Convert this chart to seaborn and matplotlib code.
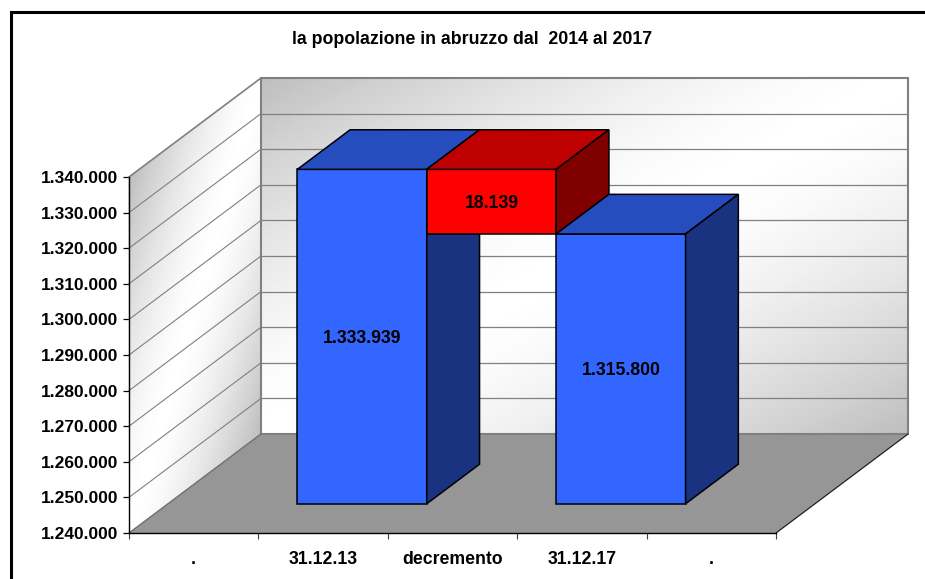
import numpy as np
import pandas as pd
import matplotlib
matplotlib.use("Agg")
import matplotlib.pyplot as plt
from matplotlib.patches import Polygon, Rectangle
from matplotlib.transforms import Affine2D
import seaborn as sns

# --- data ---
categories = [".", "31.12.13", "decremento", "31.12.17", ". "]
bar_names = ["31.12.13", "decremento", "31.12.17"]
bar_tops = [1333939, 1333939, 1315800]
bar_bottoms = [1240000, 1315800, 1240000]
bar_labels = [1333939, 18139, 1315800]
bar_colors = ["#3366FF", "#FF0000", "#3366FF"]
top_colors = ["#264DBF", "#BF0000", "#264DBF"]
side_colors = ["#1A3380", "#800000", "#1A3380"]
y_ticks = list(range(1240000, 1340001, 10000))
title = "la popolazione in abruzzo dal  2014 al 2017"

sns.set_theme(style="ticks")
plt.rcParams["font.family"] = ["Liberation Sans", "DejaVu Sans"]

W, H = 925, 579
fig = plt.figure(figsize=(W / 100, H / 100), dpi=100, facecolor="white")
ax = fig.add_axes([129 / W, 1 - 533 / H, 647 / W, 356 / H])
ax.patch.set_visible(False)

YMIN, YMAX = y_ticks[0], y_ticks[-1]
# 3D oblique projection: full depth offset in data units
DX = 132 / (647 / 5)
DY = 99 / 356 * (YMAX - YMIN)
D_FRONT, D_BACK = 0.295, 0.695
GRID = "#808080"


def proj(x, y, d):
    return x + d * DX, y + d * DY


def wall_mesh(kind, n=41):
    u = np.linspace(0, 1, n)
    v = np.linspace(0, 1, n)
    U, V = np.meshgrid(u, v)
    if kind == "side":
        X = L + U * DX
        Y = YMIN + V * (YMAX - YMIN) + U * DY
    else:
        X = L + DX + U * (R - L)
        Y = YMIN + V * (YMAX - YMIN) + DY
    C = 255 - np.abs(U - V) ** 1.5 * (255 - 190)
    return X, Y, C


L, R = -0.5, 4.5
# side wall and back wall
for kind in ("side", "back"):
    X, Y, C = wall_mesh(kind)
    ax.pcolormesh(X, Y, C, shading="gouraud", cmap="gray", vmin=0, vmax=255,
                  clip_on=False, zorder=0.5)
# floor
floor = [proj(L, YMIN, 0), proj(R, YMIN, 0), proj(R, YMIN, 1), proj(L, YMIN, 1)]
ax.add_patch(Polygon(floor, closed=True, fc="#969696", ec="none", clip_on=False, zorder=0.6))

# gridlines on the walls
for t in y_ticks:
    lw = 1.5 if t in (YMIN, YMAX) else 0.9
    if t != YMIN:
        xs, ys = zip(proj(L, t, 0), proj(L, t, 1))
        ax.plot(xs, ys, color=GRID, lw=1.2 if t == YMAX else 0.8, clip_on=False, zorder=0.8)
    xs, ys = zip(proj(L, t, 1), proj(R, t, 1))
    ax.plot(xs, ys, color=GRID, lw=lw, clip_on=False, zorder=0.8)
for xv in (L, R):
    xs, ys = zip(proj(xv, YMIN, 1), proj(xv, YMAX, 1))
    ax.plot(xs, ys, color=GRID, lw=1.5, clip_on=False, zorder=0.8)
xs, ys = zip(proj(L, YMIN, 0), proj(L, YMIN, 1))
ax.plot(xs, ys, color="#707070", lw=1.0, clip_on=False, zorder=0.9)
xs, ys = zip(proj(R, YMIN, 0), proj(R, YMIN, 1))
ax.plot(xs, ys, color="#202020", lw=0.9, clip_on=False, zorder=0.9)

# bars: front faces by seaborn, top and side faces projected from the same values
front_shift = Affine2D().translate(D_FRONT * DX, D_FRONT * DY) + ax.transData
for i, name in enumerate(bar_names):
    frame = pd.DataFrame({"periodo": [name], "altezza": [bar_tops[i] - bar_bottoms[i]]})
    n_before = len(ax.patches)
    sns.barplot(data=frame, x="periodo", y="altezza", order=categories, width=1,
                color=bar_colors[i], saturation=1, bottom=bar_bottoms[i],
                edgecolor="black", linewidth=1.1, errorbar=None, ax=ax, zorder=2 + i)
    for p in ax.patches[n_before:]:
        p.set_transform(front_shift)
        p.set_clip_on(False)
        p.set_zorder(2 + i)
    xc = categories.index(name)
    x0, x1 = xc - 0.5, xc + 0.5
    b, t = bar_bottoms[i], bar_tops[i]
    top_face = [proj(x0, t, D_FRONT), proj(x1, t, D_FRONT), proj(x1, t, D_BACK), proj(x0, t, D_BACK)]
    side_face = [proj(x1, b, D_FRONT), proj(x1, t, D_FRONT), proj(x1, t, D_BACK), proj(x1, b, D_BACK)]
    ax.add_patch(Polygon(top_face, closed=True, fc=top_colors[i], ec="black", lw=1.1,
                         clip_on=False, zorder=2 + i))
    ax.add_patch(Polygon(side_face, closed=True, fc=side_colors[i], ec="black", lw=1.1,
                         clip_on=False, zorder=2 + i))
    lx, ly = proj(xc, (b + t) / 2, D_FRONT)
    ax.annotate(f"{bar_labels[i]:,}".replace(",", "."), (lx, ly), xytext=(0, -1.5),
                textcoords="offset points", ha="center", va="center",
                fontsize=12.7, fontweight="bold", color="black", zorder=10,
                annotation_clip=False)

ax.set_xlim(L, R)
ax.set_ylim(YMIN, YMAX)
ax.set_xlabel("")
ax.set_ylabel("")
ax.set_yticks(y_ticks, [f"{v:,}".replace(",", ".") for v in y_ticks])
ax.set_xticks(range(len(categories)), [c.strip() for c in categories])
ax.set_xticks(np.arange(L, R + 0.5, 1), minor=True)
ax.tick_params(axis="x", which="major", length=0, pad=13.2, labelsize=12.7, colors="black")
ax.tick_params(axis="x", which="minor", length=4.5, width=0.8, color="#404040")
ax.tick_params(axis="y", length=4.3, width=0.9, pad=3.4, labelsize=12.5, colors="black")
for lab in ax.get_xticklabels() + ax.get_yticklabels():
    lab.set_fontweight("bold")
sns.despine(ax=ax)
for s in ("left", "bottom"):
    ax.spines[s].set_color("black")
    ax.spines[s].set_linewidth(1.0)
    ax.spines[s].set_zorder(1.5)

fig.text(472.5 / W, 1 - 40 / H, title, ha="center", va="center",
         fontsize=12.8, fontweight="bold", color="black")
fig.add_artist(Rectangle((10.5 / W, 1 - 1100 / H), 1500 / W, (1100 - 12) / H,
                         transform=fig.transFigure, fc="none", ec="black", lw=2.2))

fig.savefig("out.png", dpi=100)
